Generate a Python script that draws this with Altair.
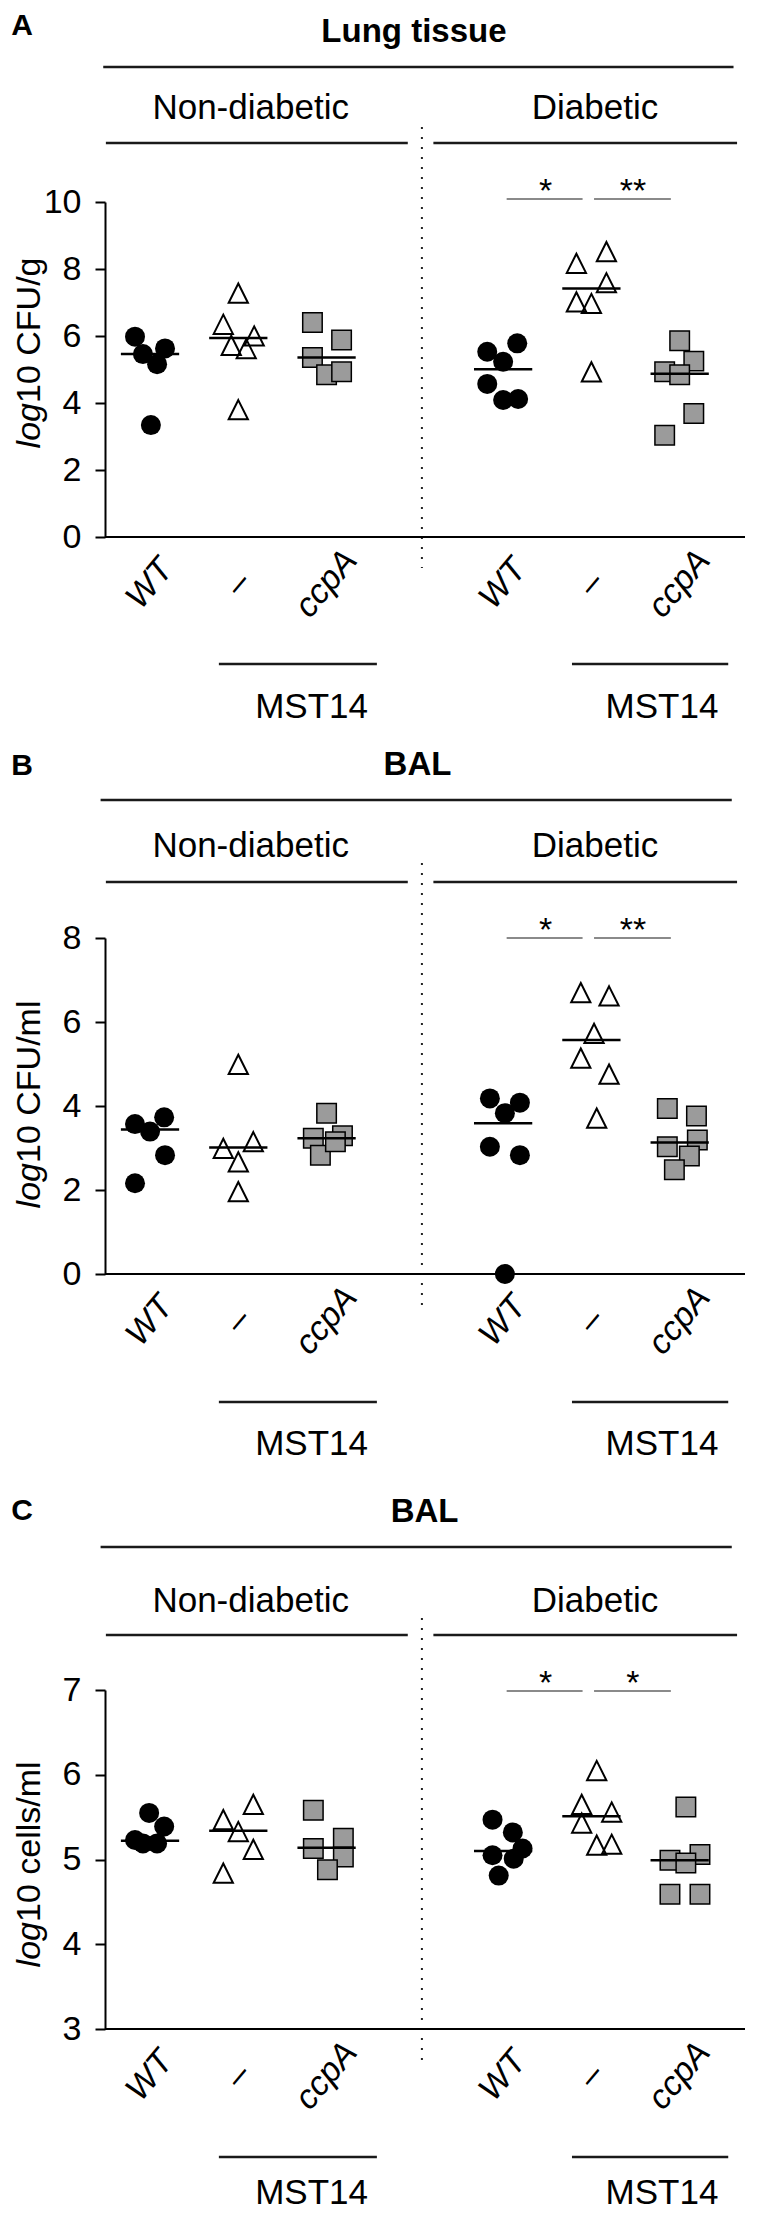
import altair as alt
import pandas as pd

FONT = "Liberation Sans"

STRAINS = ["WT", "–", "ccpA"]
CONDITIONS = ["Non-diabetic", "Diabetic"]
# category positions on the shared x scale (gap at 4 separates the two conditions)
POS_ND = [1, 2, 3]
POS_D = [5, 6, 7]

# ---------------- Panel A : Lung tissue, log10 CFU/g ----------------
A_ND_WT = [5.98, 5.46, 5.16, 5.63, 3.34]
A_ND_MUT = [7.28, 6.35, 6.00, 5.72, 5.62, 3.80]
A_ND_CCPA = [6.40, 5.88, 5.36, 4.84, 4.93]
A_D_WT = [5.78, 5.53, 5.23, 4.57, 4.09, 4.12]
A_D_MUT = [8.17, 8.52, 7.59, 7.02, 6.97, 4.93]
A_D_CCPA = [5.86, 5.25, 4.93, 4.84, 3.69, 3.04]
A_MEDIANS = [5.46, 5.94, 5.36, 5.01, 7.42, 4.87]
A_JITTER = [
    [-0.17, -0.08, 0.08, 0.17, 0.01],
    [0.0, -0.17, 0.18, -0.08, 0.09, 0.0],
    [-0.16, 0.17, -0.16, 0.0, 0.17],
    [0.16, -0.18, 0.0, -0.18, 0.0, 0.17],
    [-0.17, 0.17, 0.17, -0.17, 0.0, 0.0],
    [0.0, 0.16, -0.17, 0.0, 0.16, -0.17],
]
A_TICKS = [0, 2, 4, 6, 8, 10]

# ---------------- Panel B : BAL, log10 CFU/ml ----------------
B_ND_WT = [3.57, 3.73, 3.39, 2.83, 2.16]
B_ND_MUT = [4.99, 3.15, 2.99, 2.67, 1.96]
B_ND_CCPA = [3.83, 3.29, 3.23, 2.83, 3.15]
B_D_WT = [4.18, 4.08, 3.83, 3.03, 2.83, 0.0]
B_D_MUT = [6.70, 6.62, 5.73, 5.14, 4.76, 3.71]
B_D_CCPA = [3.94, 3.76, 3.19, 3.03, 2.81, 2.48]
B_MEDIANS = [3.44, 3.01, 3.23, 3.59, 5.57, 3.13]
B_JITTER = [
    [-0.17, 0.16, 0.0, 0.17, -0.17],
    [0.0, 0.17, -0.17, 0.0, 0.0],
    [0.0, 0.18, -0.15, -0.07, 0.10],
    [-0.15, 0.19, 0.02, -0.15, 0.19, 0.02],
    [-0.12, 0.20, 0.03, -0.12, 0.20, 0.06],
    [-0.14, 0.19, 0.20, -0.14, 0.11, -0.06],
]
B_TICKS = [0, 2, 4, 6, 8]

# ---------------- Panel C : BAL, log10 cells/ml ----------------
C_ND_WT = [5.55, 5.39, 5.23, 5.19, 5.19]
C_ND_MUT = [5.65, 5.47, 5.33, 5.12, 4.84]
C_ND_CCPA = [5.58, 5.25, 5.13, 5.03, 4.88]
C_D_WT = [5.47, 5.32, 5.13, 5.05, 5.01, 4.81]
C_D_MUT = [6.05, 5.65, 5.56, 5.43, 5.17, 5.18]
C_D_CCPA = [5.62, 5.06, 4.99, 4.96, 4.59, 4.59]
C_MEDIANS = [5.22, 5.34, 5.14, 5.10, 5.51, 4.99]
C_JITTER = [
    [-0.01, 0.16, -0.17, -0.08, 0.08],
    [0.17, -0.17, 0.0, 0.17, -0.17],
    [-0.15, 0.19, -0.15, 0.19, 0.01],
    [-0.12, 0.11, 0.22, -0.12, 0.12, -0.05],
    [0.06, -0.11, 0.23, -0.11, 0.06, 0.23],
    [0.07, 0.23, -0.11, 0.07, -0.11, 0.23],
]
C_TICKS = [3, 4, 5, 6, 7]

# ---------------- layout (pixels inside each panel cell) ----------------
XMIN, XMAX = 0.49, 7.74
W = 640
XS = alt.Scale(domain=[XMIN, XMAX], nice=False, zero=False)
TRI = "M0,-1L1,1L-1,1Z"

LAYOUT = {
    "A": dict(h=720, letter=("A", 22), title=("Lung tissue", 3.99, 29), top_line=(0.47, 7.61, 54),
              cond_y=106, cond_line=130, dot=(114, 555), bars=186, y_bot=524, y_top=189,
              xlab=571, mst_line=651, mst_text=705, ytitle=("10 CFU/g", 390)),
    "B": dict(h=747, letter=("B", 42), title=("BAL", 4.03, 42), top_line=(0.44, 7.59, 67),
              cond_y=124, cond_line=149, dot=(130, 574), bars=205, y_bot=541, y_top=205,
              xlab=588, mst_line=669, mst_text=722, ytitle=("10 CFU/ml", 430)),
    "C": dict(h=720, letter=("C", 40), title=("BAL", 4.11, 42), top_line=(0.44, 7.59, 67),
              cond_y=132, cond_line=155, dot=(138, 580), bars=211, y_bot=549, y_top=210,
              xlab=596, mst_line=677, mst_text=724, ytitle=("10 cells/ml", 442)),
}


def one():
    return pd.DataFrame({"k": [0]})


def xenc(field="x"):
    return alt.X(f"{field}:Q", scale=XS, axis=None)


def hrule(x1, x2, ypx, color="#1a1a1a", width=2.5):
    df = pd.DataFrame({"x": [x1], "x2": [x2]})
    return alt.Chart(df).mark_rule(color=color, strokeWidth=width).encode(
        x=xenc(), x2="x2:Q", y=alt.value(ypx))


def text_at(x, ypx, txt, size=35, weight="normal", style="normal", align="center",
            baseline="alphabetic", angle=0):
    df = pd.DataFrame({"x": [x]})
    return alt.Chart(df).mark_text(
        text=txt, font=FONT, fontSize=size, fontWeight=weight, fontStyle=style,
        align=align, baseline=baseline, angle=angle, color="black").encode(
        x=xenc(), y=alt.value(ypx))


def text_px(xpx, ypx, txt, size=35, weight="normal", style="normal", align="center",
            baseline="alphabetic", angle=0):
    return alt.Chart(one()).mark_text(
        text=txt, font=FONT, fontSize=size, fontWeight=weight, fontStyle=style,
        align=align, baseline=baseline, angle=angle, color="black").encode(
        x=alt.value(xpx), y=alt.value(ypx))


def panel(key, groups, jitter, medians, ticks):
    L = LAYOUT[key]
    domain = [ticks[0], ticks[-1]]
    yaxis = alt.Axis(values=ticks, title=None, grid=False, tickSize=10, tickWidth=2,
                     tickColor="black", domainColor="black", domainWidth=2,
                     labelFont=FONT, labelFontSize=34, labelColor="black", labelPadding=14,
                     labelFlush=False, labelOverlap=False, format="d")
    Y = alt.Y("value:Q", scale=alt.Scale(domain=domain, range=[L["y_bot"], L["y_top"]],
                                         nice=False, zero=False), axis=yaxis)

    positions = POS_ND + POS_D
    strains = STRAINS + STRAINS
    rows = []
    for vals, jit, p, s in zip(groups, jitter, positions, strains):
        for v, j in zip(vals, jit):
            rows.append({"strain": s, "value": v, "x": p + j})
    pts = pd.DataFrame(rows)
    med = pd.DataFrame({"value": medians,
                        "x": [p - 0.33 for p in positions],
                        "x2": [p + 0.33 for p in positions]})

    layers = []
    # condition separator (dotted)
    layers.append(alt.Chart(pd.DataFrame({"x": [4.08]})).mark_rule(
        color="#222222", strokeWidth=2, strokeDash=[2, 8]).encode(
        x=xenc(), y=alt.value(L["dot"][0]), y2=alt.value(L["dot"][1])))
    # x axis line at the bottom of the value range
    layers.append(hrule(XMIN, XMAX, L["y_bot"], color="black", width=2))

    circ = pts[pts.strain == "WT"]
    tri = pts[pts.strain == "–"]
    sq = pts[pts.strain == "ccpA"]
    layers.append(alt.Chart(circ).mark_point(shape="circle", filled=True, fill="black",
                                             stroke="black", strokeWidth=0, size=400,
                                             opacity=1).encode(x=xenc(), y=Y))
    layers.append(alt.Chart(sq).mark_point(shape="square", filled=True, fill="#9b9b9b",
                                           stroke="black", strokeWidth=1.5, size=380,
                                           opacity=1).encode(x=xenc(), y=Y))
    layers.append(alt.Chart(tri).mark_point(shape=TRI, filled=False, stroke="black",
                                            strokeWidth=2, size=370,
                                            opacity=1).encode(x=xenc(), y=Y))
    layers.append(alt.Chart(med).mark_rule(color="black", strokeWidth=2.5).encode(
        x=xenc(), x2="x2:Q", y=Y))

    # headers
    letter, ly = L["letter"]
    layers.append(text_px(-83, ly, letter, size=30, weight="bold"))
    t, tx, ty = L["title"]
    layers.append(text_at(tx, ty, t, size=33, weight="bold"))
    x1, x2, yl = L["top_line"]
    layers.append(hrule(x1, x2, yl))
    layers.append(text_at(2.14, L["cond_y"], "Non-diabetic"))
    layers.append(text_at(6.04, L["cond_y"], "Diabetic"))
    layers.append(hrule(0.50, 3.92, L["cond_line"]))
    layers.append(hrule(4.21, 7.65, L["cond_line"]))

    # significance bars
    layers.append(hrule(5.04, 5.90, L["bars"], color="#8a8a8a", width=2))
    layers.append(hrule(6.03, 6.90, L["bars"], color="#8a8a8a", width=2))
    stars = ["*", "**"] if key != "C" else ["*", "*"]
    layers.append(text_at(5.48, L["bars"] + 3, stars[0], size=34))
    layers.append(text_at(6.47, L["bars"] + 3, stars[1], size=34))

    # x labels
    xl = pd.DataFrame({"x": positions, "label": strains})
    layers.append(alt.Chart(xl).mark_text(
        font=FONT, fontSize=34, fontStyle="italic", angle=310, align="center",
        baseline="middle", color="black").encode(
        x=xenc(), y=alt.value(L["xlab"]), text="label:N"))

    # MST14 brackets
    layers.append(hrule(1.78, 3.57, L["mst_line"]))
    layers.append(hrule(5.78, 7.55, L["mst_line"]))
    layers.append(text_at(2.83, L["mst_text"], "MST14"))
    layers.append(text_at(6.80, L["mst_text"], "MST14"))

    # y title: italic "log" + regular rest, rotated
    rest, jy = L["ytitle"]
    layers.append(text_px(-65, jy, "log", size=34, style="italic", align="right", angle=270))
    layers.append(text_px(-65, jy, rest, size=34, align="left", angle=270))

    return alt.layer(*layers).properties(width=W, height=L["h"])


pA = panel("A", [A_ND_WT, A_ND_MUT, A_ND_CCPA, A_D_WT, A_D_MUT, A_D_CCPA], A_JITTER, A_MEDIANS, A_TICKS)
pB = panel("B", [B_ND_WT, B_ND_MUT, B_ND_CCPA, B_D_WT, B_D_MUT, B_D_CCPA], B_JITTER, B_MEDIANS, B_TICKS)
pC = panel("C", [C_ND_WT, C_ND_MUT, C_ND_CCPA, C_D_WT, C_D_MUT, C_D_CCPA], C_JITTER, C_MEDIANS, C_TICKS)

chart = alt.vconcat(pA, pB, pC, spacing=0, bounds="flush").configure_view(
    strokeWidth=0).properties(padding={"left": 3, "top": 3, "right": 0, "bottom": 0},
                              background="white")

chart.save("out.html", embed_options={"renderer": "svg", "actions": False})
